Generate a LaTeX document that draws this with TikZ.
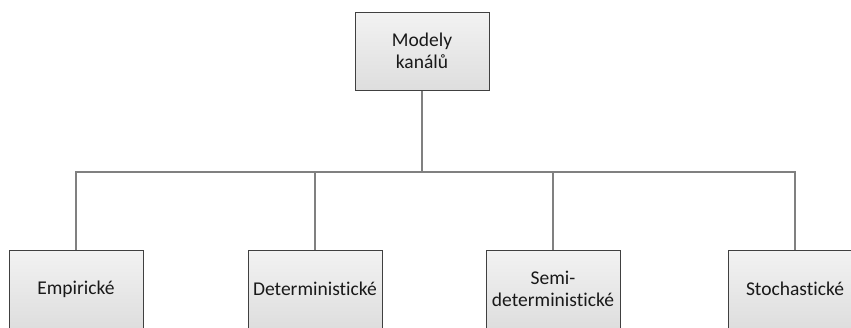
\documentclass[tikz,border=0pt]{standalone}
\usepackage{fontspec}
\setmainfont[Ligatures={NoCommon}]{Carlito}
\usepackage{tikz}

\definecolor{boxline}{HTML}{404040}
\definecolor{linkline}{HTML}{808080}

\begin{document}
\begin{tikzpicture}[x=1pt, y=1pt, node distance=238pt,
    block/.style={draw=boxline, line width=1pt, top color=white!95!black,
      bottom color=white!87!black, minimum width=134pt, minimum height=78pt,
      inner sep=0pt, align=center, text=black!90,
      font=\fontsize{19.5}{22}\selectfont},
    link/.style={draw=linkline, line width=1.2pt}]
        \useasboundingbox (0,0) rectangle (851,-327);
        \node [block] (top) at (422,-51) {Modely\\kanálů};
        \node [block, below of=top, xshift=-346pt] (emp) {Empirické};
        \node [block, below of=top, xshift=-107pt] (det) {Deterministické};
        \node [block, below of=top, xshift=131pt] (semi) {Semi-\\deterministické};
        \node [block, below of=top, xshift=373pt] (stoch) {Stochastické};
        \coordinate (bus) at (422,-172);
        \draw[link] (top) -- (bus);
        \draw[link] (bus) -| (emp);
        \draw[link] (bus) -| (det);
        \draw[link] (bus) -| (semi);
        \draw[link] (bus) -| (stoch);
      \end{tikzpicture}
\end{document}
